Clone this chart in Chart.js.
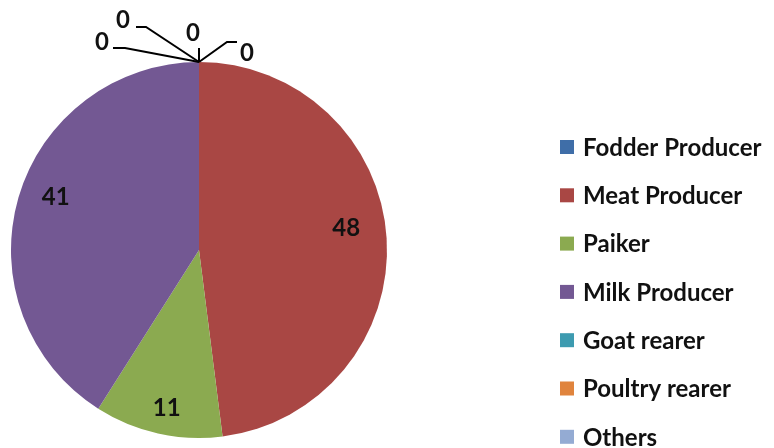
<!DOCTYPE html>
<html>
<head>
<meta charset="utf-8">
<script src="https://cdn.jsdelivr.net/npm/chart.js@4/dist/chart.umd.min.js"></script>
<style>
html,body{margin:0;padding:0;background:#fff;}
#wrap{position:relative;width:774px;height:448px;}
</style>
</head>
<body>
<div id="wrap"><canvas id="c" width="774" height="448"></canvas></div>
<script>
const categories = ["Fodder Producer","Meat Producer","Paiker","Milk Producer","Goat rearer","Poultry rearer","Others"];
const values = [0, 48, 11, 41, 0, 0, 0];
const colors = ["#3F6EA8","#A94744","#8BAA50","#735893","#3D9BB0","#E0843D","#94ABD3"];

// label styling (radius fraction along mid-angle, pixel offsets) for non-zero slices
const labelStyle = {
  1: {r: 0.79, dx: -1, dy: -12},
  2: {r: 0.86, dx: 3, dy: 0},
  3: {r: 0.81, dx: 3, dy: -10}
};
// leader-line labels for zero slices
const zeroStyle = {
  0: {ex: 28, ey: -20, hx: 38, tx: 48, ty: -9},
  4: {ex: 0, ey: -14, hx: 0, tx: -6, ty: -29},
  5: {ex: -53, ey: -35, hx: -63, tx: -76, ty: -42},
  6: {ex: -74, ey: -14, hx: -86, tx: -97, ty: -20}
};

const FONT = "Lato, 'Liberation Sans', sans-serif";

const labelsPlugin = {
  id: 'labelsPlugin',
  afterDatasetsDraw(chart) {
    const ctx = chart.ctx;
    const meta = chart.getDatasetMeta(0);
    ctx.save();
    ctx.font = "bold 24px " + FONT;
    ctx.fillStyle = "#111";
    ctx.textAlign = "center";
    ctx.textBaseline = "middle";
    meta.data.forEach((arc, i) => {
      const p = arc.getProps(['x','y','startAngle','endAngle','outerRadius'], true);
      const v = chart.data.datasets[0].data[i];
      if (v > 0) {
        const s = labelStyle[i] || {r: 0.7, dx: 0, dy: 0};
        const mid = (p.startAngle + p.endAngle) / 2;
        const x = p.x + Math.cos(mid) * p.outerRadius * s.r + s.dx;
        const y = p.y + Math.sin(mid) * p.outerRadius * s.r + s.dy;
        ctx.fillText(String(v), x, y);
      } else {
        const z = zeroStyle[i];
        if (!z) return;
        const ax = p.x + Math.cos(p.startAngle) * p.outerRadius;
        const ay = p.y + Math.sin(p.startAngle) * p.outerRadius;
        ctx.strokeStyle = "#000";
        ctx.lineWidth = 2;
        ctx.beginPath();
        ctx.moveTo(ax, ay);
        ctx.lineTo(ax + z.ex, ay + z.ey);
        ctx.lineTo(ax + z.hx, ay + z.ey);
        ctx.stroke();
        ctx.fillText(String(v), ax + z.tx, ay + z.ty);
      }
    });
    ctx.restore();
  }
};

const legendPlugin = {
  id: 'legendPlugin',
  afterDraw(chart) {
    const ctx = chart.ctx;
    ctx.save();
    ctx.font = "bold 24px " + FONT;
    ctx.textAlign = "left";
    ctx.textBaseline = "middle";
    const x0 = 560, y0 = 147, step = 48.3, box = 14;
    chart.data.labels.forEach((lab, i) => {
      const y = y0 + i * step;
      ctx.fillStyle = chart.data.datasets[0].backgroundColor[i];
      ctx.fillRect(x0, y - box/2, box, box);
      ctx.fillStyle = "#111";
      ctx.fillText(lab, x0 + 23, y + 1);
    });
    ctx.restore();
  }
};

new Chart(document.getElementById('c'), {
  type: 'pie',
  data: {
    labels: categories,
    datasets: [{
      data: values,
      backgroundColor: colors,
      borderWidth: 0
    }]
  },
  options: {
    responsive: false,
    animation: false,
    layout: {padding: {left: 11, top: 62, bottom: 10, right: 387}},
    plugins: {legend: {display: false}, tooltip: {enabled: false}}
  },
  plugins: [labelsPlugin, legendPlugin]
});
</script>
</body>
</html>
